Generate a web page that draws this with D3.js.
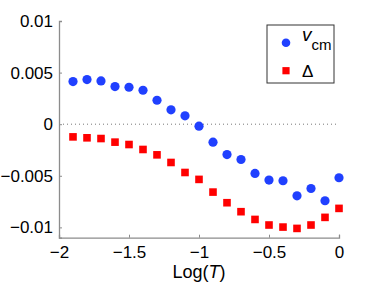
<!DOCTYPE html>
<html><head><meta charset="utf-8">
<script src="https://cdn.jsdelivr.net/npm/d3@7"></script>
<style>body{margin:0;background:#fff}svg{display:block}text{font-family:"Liberation Sans",Arial,sans-serif}</style>
</head><body>
<svg id="c" width="374" height="282"></svg>
<script>
const logT = [-1.9,-1.8,-1.7,-1.6,-1.5,-1.4,-1.3,-1.2,-1.1,-1.0,-0.9,-0.8,-0.7,-0.6,-0.5,-0.4,-0.3,-0.2,-0.1,0];
const vcm = [0.00413,0.00432,0.00419,0.00365,0.00358,0.00329,0.00232,0.00139,0.00081,-0.00019,-0.00174,-0.00294,-0.00342,-0.00477,-0.00542,-0.00548,-0.00694,-0.00623,-0.00742,-0.00519];
const delta = [-0.00123,-0.00132,-0.00139,-0.00174,-0.00197,-0.00245,-0.00297,-0.00371,-0.00468,-0.00535,-0.00658,-0.00761,-0.00848,-0.00923,-0.00977,-0.00997,-0.0101,-0.00977,-0.00903,-0.00816];
const xTicks = [-2,-1.5,-1,-0.5,0];
const yTicks = [-0.01,-0.005,0,0.005,0.01];
const xTickLabels = ["\u22122","\u22121.5","\u22121","\u22120.5","0"];
const yTickLabels = ["\u22120.01","\u22120.005","0","0.005","0.01"];

const svg = d3.select("#c");
const L=59,R=339,T=21,B=237.7;
const x = d3.scaleLinear().domain([-2,0]).range([L,R]);
const y = d3.scaleLinear().domain([-0.011,0.01]).range([B,T]);
const axisCol="#8c8c8c";

// zero dotted line
svg.append("line").attr("x1",L).attr("x2",R).attr("y1",y(0)).attr("y2",y(0))
  .attr("stroke","#777").attr("stroke-width",1).attr("stroke-dasharray","1,3");

// axes
const xa = svg.append("g").attr("transform",`translate(0,${B})`)
  .call(d3.axisBottom(x).tickValues(xTicks).tickSize(-3).tickPadding(8).tickFormat((d,i)=>xTickLabels[i]));
const ya = svg.append("g").attr("transform",`translate(${L},0)`)
  .call(d3.axisLeft(y).tickValues(yTicks).tickSize(-3).tickPadding(6).tickFormat((d,i)=>yTickLabels[i]));
[xa,ya].forEach(a=>{
  a.select(".domain").attr("stroke",axisCol).attr("stroke-width",1.3);
  a.selectAll(".tick line").attr("stroke",axisCol);
  a.selectAll("text").attr("fill","#000").style("font-size","17px").style("font-family","'Liberation Sans',Arial,sans-serif");
});
xa.selectAll("text").attr("dy","0.71em");

// data
svg.append("g").selectAll("circle").data(logT).join("circle")
  .attr("cx",d=>x(d)).attr("cy",(d,i)=>y(vcm[i])).attr("r",4.6).attr("fill","#2040ff");
const s=7.6;
svg.append("g").selectAll("rect").data(logT).join("rect")
  .attr("x",d=>x(d)-s/2).attr("y",(d,i)=>y(delta[i])-s/2).attr("width",s).attr("height",s).attr("fill","#ff0000");

// x label
const xl = svg.append("text").attr("x",(L+R)/2).attr("y",278).attr("text-anchor","middle").style("font-size","18px");
xl.append("tspan").text("Log(");
xl.append("tspan").attr("font-style","italic").text("T");
xl.append("tspan").text(")");

// legend
const lg = svg.append("g");
lg.append("rect").attr("x",267).attr("y",25).attr("width",67).attr("height",58).attr("fill","#fff").attr("stroke","#333").attr("stroke-width",1);
lg.append("circle").attr("cx",286).attr("cy",42.7).attr("r",4.3).attr("fill","#2040ff");
lg.append("rect").attr("x",286-3.6).attr("y",70.7-3.6).attr("width",7.2).attr("height",7.2).attr("fill","#ff0000");
const t1 = lg.append("text").attr("x",302).attr("y",41).style("font-size","19px");
t1.append("tspan").attr("font-style","italic").text("v");
t1.append("tspan").attr("dy",9).style("font-size","15px").text("cm");
lg.append("text").attr("x",302).attr("y",77).style("font-size","17px").text("\u0394");
</script>
</body></html>
